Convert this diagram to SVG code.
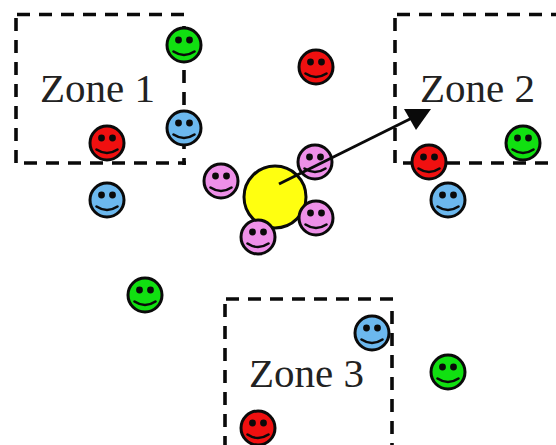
<svg xmlns="http://www.w3.org/2000/svg" xmlns:xlink="http://www.w3.org/1999/xlink" width="556" height="445" viewBox="0 0 556 445">
<style>
.zone{fill:none;stroke:#0a0a0a;stroke-width:3.6;stroke-dasharray:13 9}
.label{font-family:"Liberation Serif","Times New Roman",serif;font-size:41px;fill:#222}
.face{stroke:#0a0a0a;stroke-width:3}
.eye{fill:#0a0a0a}
.smile{fill:none;stroke:#0a0a0a;stroke-width:2.6;stroke-linecap:round}
.g{fill:#11e011}.r{fill:#f01010}.b{fill:#6cb8ee}.p{fill:#ee90e8}
</style>
<defs>
<g id="features">
<circle class="eye" cx="-5.500" cy="-5" r="3.400"/>
<circle class="eye" cx="5.500" cy="-5" r="3.400"/>
<path class="smile" d="M-10.500 6.500Q0 13.500 10.500 6.500"/>
</g>
</defs>
<rect width="556" height="445" fill="#fff"/>
<g id="zones">
<g id="zone1"><path class="zone" d="M17 14.500H186M16 18V165M24 163H186M184 26V165"/><text class="label" x="40" y="102">Zone 1</text></g>
<g id="zone2"><path class="zone" d="M397 14.500H556M395 18V165M403 163H556"/><text class="label" x="420" y="102">Zone 2</text></g>
<g id="zone3"><path class="zone" d="M226 299H394M225 304V445M392 311V445"/><text class="label" x="249" y="387">Zone 3</text></g>
</g>
<g id="nodes">
<g id="center"><circle cx="275" cy="197" r="31" fill="#ffff10" stroke="#0a0a0a" stroke-width="3"/></g>
<g id="n1" transform="translate(184 45)"><circle class="face g" r="17"/><use xlink:href="#features"/></g>
<g id="n2" transform="translate(316 67)"><circle class="face r" r="17"/><use xlink:href="#features"/></g>
<g id="n3" transform="translate(184 128)"><circle class="face b" r="17"/><use xlink:href="#features"/></g>
<g id="n4" transform="translate(107 143)"><circle class="face r" r="17"/><use xlink:href="#features"/></g>
<g id="n5" transform="translate(107 200)"><circle class="face b" r="17"/><use xlink:href="#features"/></g>
<g id="n6" transform="translate(221 181)"><circle class="face p" r="17"/><use xlink:href="#features"/></g>
<g id="n7" transform="translate(315 162)"><circle class="face p" r="17"/><use xlink:href="#features"/></g>
<g id="n8" transform="translate(316 218)"><circle class="face p" r="17"/><use xlink:href="#features"/></g>
<g id="n9" transform="translate(258 237)"><circle class="face p" r="17"/><use xlink:href="#features"/></g>
<g id="n10" transform="translate(429 162)"><circle class="face r" r="17"/><use xlink:href="#features"/></g>
<g id="n11" transform="translate(523 143)"><circle class="face g" r="17"/><use xlink:href="#features"/></g>
<g id="n12" transform="translate(448 200)"><circle class="face b" r="17"/><use xlink:href="#features"/></g>
<g id="n13" transform="translate(145 295)"><circle class="face g" r="17"/><use xlink:href="#features"/></g>
<g id="n14" transform="translate(372 333)"><circle class="face b" r="17"/><use xlink:href="#features"/></g>
<g id="n15" transform="translate(448 372)"><circle class="face g" r="17"/><use xlink:href="#features"/></g>
<g id="n16" transform="translate(258 428)"><circle class="face r" r="17"/><use xlink:href="#features"/></g>
</g>
<g id="connectors">
<path d="M279 184L414 117" fill="none" stroke="#0a0a0a" stroke-width="3"/>
<path d="M404 109H431L416 130Z" fill="#0a0a0a"/>
</g>
</svg>
